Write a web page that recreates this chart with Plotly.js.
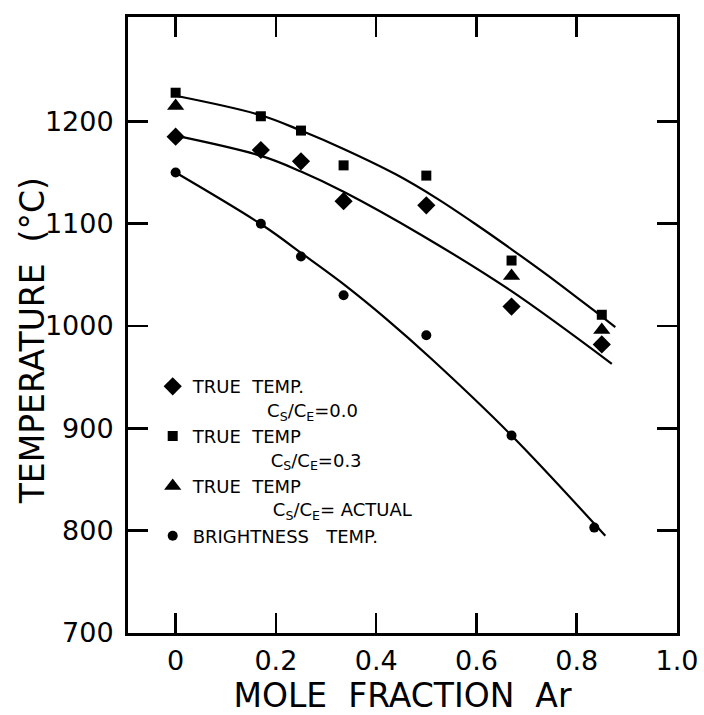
<!DOCTYPE html>
<html><head><meta charset="utf-8">
<script src="https://cdn.plot.ly/plotly-3.0.1.min.js"></script>
<style>body{margin:0;background:#fff}</style>
</head><body><div id="chart" style="width:704px;height:715px"></div>
<script>
// measured data
const moleFrac = [0, 0.17, 0.25, 0.335, 0.50, 0.67, 0.85];
const trueTemp00 = [1185, 1172, 1161, 1122, 1118, 1019, 982];
const trueTemp03 = [1228, 1205, 1191, 1157, 1147, 1064, 1011];
const actualFrac = [0, 0.67, 0.85];
const trueTempActual = [1215, 1049, 996];
const brightFrac = [0, 0.17, 0.25, 0.335, 0.50, 0.67, 0.835];
const brightTemp = [1150, 1100, 1068, 1030, 991, 893, 803];

// hand-drawn fitted curves
const fitUpperX = [0, 0.17, 0.25, 0.335, 0.44, 0.52, 0.60, 0.67, 0.76, 0.84, 0.877];
const fitUpperY = [1225, 1206, 1191, 1173, 1148, 1125, 1099, 1075, 1043, 1013, 999];
const fitMiddleX = [0, 0.172, 0.25, 0.336, 0.49, 0.667, 0.87];
const fitMiddleY = [1186, 1166, 1151, 1131, 1089, 1035, 963];
const fitLowerX = [0, 0.175, 0.257, 0.34, 0.42, 0.51, 0.67, 0.857];
const fitLowerY = [1150, 1098, 1069, 1039, 1007, 968, 893, 795];

const sp = n => '\u00a0'.repeat(n);
const legendNames = [
  'TRUE' + sp(2) + 'TEMP.<br>' + sp(13) + 'C<sub>S</sub>/C<sub>E</sub>=0.0',
  'TRUE' + sp(2) + 'TEMP<br>' + sp(13) + '\u2009C<sub>S</sub>/C<sub>E</sub>=0.3',
  'TRUE' + sp(2) + 'TEMP<br>' + sp(14) + 'C<sub>S</sub>/C<sub>E</sub>= ACTUAL',
  'BRIGHTNESS' + sp(3) + 'TEMP.'
];
const xTitle = 'MOLE' + sp(2) + 'FRACTION' + sp(2) + 'Ar';
const yTitle = 'TEMPERATURE' + sp(2) + '(°C)';
const xTickVals = [0, 0.2, 0.4, 0.6, 0.8, 1.0];
const xTickText = ['0', '0.2', '0.4', '0.6', '0.8', '1.0'];
const yTickVals = [700, 800, 900, 1000, 1100, 1200];
const yTickText = ['700', '800', '900', '1000', '1100', '1200'];

const FONT = 'DejaVu Sans, Verdana, sans-serif';
const lineStyle = {color: '#000', width: 2.2, shape: 'spline', smoothing: 1};

const traces = [
  {x: fitUpperX, y: fitUpperY, mode: 'lines', line: lineStyle, showlegend: false, hoverinfo: 'skip'},
  {x: fitMiddleX, y: fitMiddleY, mode: 'lines', line: lineStyle, showlegend: false, hoverinfo: 'skip'},
  {x: fitLowerX, y: fitLowerY, mode: 'lines', line: lineStyle, showlegend: false, hoverinfo: 'skip'},
  {x: moleFrac, y: trueTemp00, mode: 'markers', name: legendNames[0],
   marker: {symbol: 'diamond', size: 14, color: '#000'}},
  {x: moleFrac, y: trueTemp03, mode: 'markers', name: legendNames[1],
   marker: {symbol: 'square', size: 10, color: '#000'}},
  {x: actualFrac, y: trueTempActual, mode: 'markers', name: legendNames[2],
   marker: {symbol: 'triangle-up', size: 15, color: '#000'}},
  {x: brightFrac, y: brightTemp, mode: 'markers', name: legendNames[3],
   marker: {symbol: 'circle', size: 10, color: '#000'}}
];

const axisCommon = {
  showline: true, linecolor: '#000', linewidth: 3, mirror: 'ticks',
  ticks: 'inside', ticklen: 20, tickwidth: 2.5, tickcolor: '#000',
  showgrid: false, zeroline: false,
  tickfont: {family: FONT, size: 27, color: '#000'}
};

const layout = {
  width: 704, height: 715,
  margin: {l: 128, r: 27, t: 17, b: 82},
  paper_bgcolor: '#fff', plot_bgcolor: '#fff',
  font: {family: FONT, color: '#000'},
  xaxis: Object.assign({}, axisCommon, {
    range: [-0.095, 1.0], tickmode: 'array', tickvals: xTickVals, ticktext: xTickText,
    ticklabelstandoff: 2,
    title: {text: xTitle, font: {family: FONT, size: 33, color: '#000'}, standoff: 0}
  }),
  yaxis: Object.assign({}, axisCommon, {
    range: [700, 1302], tickmode: 'array', tickvals: yTickVals, ticktext: yTickText,
    ticklabelstandoff: 6
  }),
  annotations: [{
    text: yTitle, textangle: -90, showarrow: false,
    xref: 'paper', yref: 'paper', x: -0.175, y: 0.475, xanchor: 'center', yanchor: 'middle',
    font: {family: FONT, size: 33, color: '#000'}
  }],
  showlegend: true,
  legend: {
    x: 0.045, xanchor: 'left', y: 0.43, yanchor: 'top',
    bgcolor: 'rgba(0,0,0,0)', borderwidth: 0,
    font: {family: FONT, size: 18, color: '#000'},
    valign: 'top', itemclick: false, itemdoubleclick: false, tracegroupgap: 0
  }
};

Plotly.newPlot('chart', traces, layout, {displayModeBar: false, staticPlot: true});
</script>
</body></html>
